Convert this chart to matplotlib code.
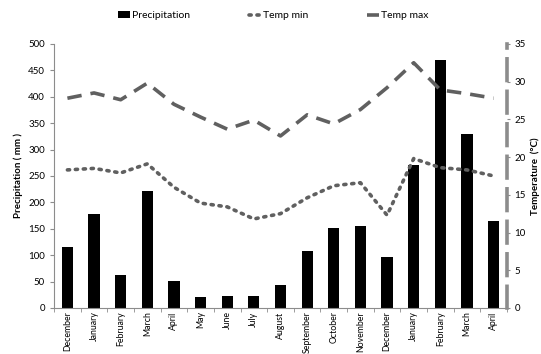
import matplotlib.pyplot as plt
import numpy as np

months = ["December", "January", "February", "March", "April", "May", "June",
          "July", "August", "September", "October", "November", "December",
          "January", "February", "March", "April"]
precip = [115, 178, 62, 222, 51, 20, 22, 23, 43, 107, 152, 156, 96, 270, 470, 330, 165]
temp_min = [18.3, 18.5, 17.9, 19.1, 16.0, 13.9, 13.4, 11.8, 12.5, 14.6, 16.2, 16.6,
            12.3, 19.8, 18.6, 18.3, 17.5]
temp_max = [27.8, 28.5, 27.6, 29.8, 27.0, 25.3, 23.7, 24.9, 22.8, 25.6, 24.4, 26.3,
            29.2, 32.5, 28.9, 28.4, 27.8]

plt.rcParams['font.family'] = ['Lato', 'DejaVu Sans']
grey = '#8c8c8c'
line_col = '#606060'

fig = plt.figure(figsize=(5.41, 3.54), dpi=100)
ax = fig.add_axes([0.1, 0.13, 0.837, 0.746])
x = np.arange(len(months))

bars = ax.bar(x, precip, width=0.42, color='black', label='Precipitation', zorder=2)
ax.set_xlim(-0.5, len(months) - 0.5)
ax.set_ylim(0, 500)
ax.set_yticks(range(0, 501, 50))
ax.set_ylabel('Precipitation ( mm )', fontsize=7, fontweight='bold')
ax.set_xticks(x)
ax.set_xticklabels(months, rotation=90, fontsize=6.3)
ax.tick_params(axis='x', which='major', length=0, pad=2.5)
ax.set_xticks(np.arange(-0.5, len(months), 1), minor=True)
ax.tick_params(axis='x', which='minor', length=3, color=grey, direction='out')
ax.tick_params(axis='y', labelsize=7, color=grey, length=3)
for s in ['top', 'right']:
    ax.spines[s].set_visible(False)
ax.spines['left'].set_color(grey)
ax.spines['bottom'].set_color(grey)

ax2 = ax.twinx()
l1, = ax2.plot(x, temp_min, color=line_col, linestyle=(0, (0.6, 1.6)), linewidth=2.6,
               dash_capstyle='round', label='Temp min')
l2, = ax2.plot(x, temp_max, color=line_col, linestyle=(0, (4, 2.5)), linewidth=2.6,
               label='Temp max')
ax2.set_ylim(0, 35)
ax2.set_yticks(range(0, 36, 5))
ax2.tick_params(axis='y', labelsize=7, color=grey, length=2)
ax2.set_ylabel('Temperature  (°C)', fontsize=7, fontweight='bold', labelpad=3)
for s in ['top', 'left', 'bottom']:
    ax2.spines[s].set_visible(False)
ax2.spines['right'].set_color(grey)
ax2.spines['right'].set_linewidth(2.6)
ax2.spines['right'].set_linestyle((0, (6, 3)))

fig.legend(handles=[bars, l1, l2], loc='upper center', bbox_to_anchor=(0.505, 0.995),
           ncol=3, frameon=False, fontsize=7.5, handlelength=1.2, handletextpad=0.2,
           columnspacing=5.6)

fig.savefig('out.png', dpi=100)
